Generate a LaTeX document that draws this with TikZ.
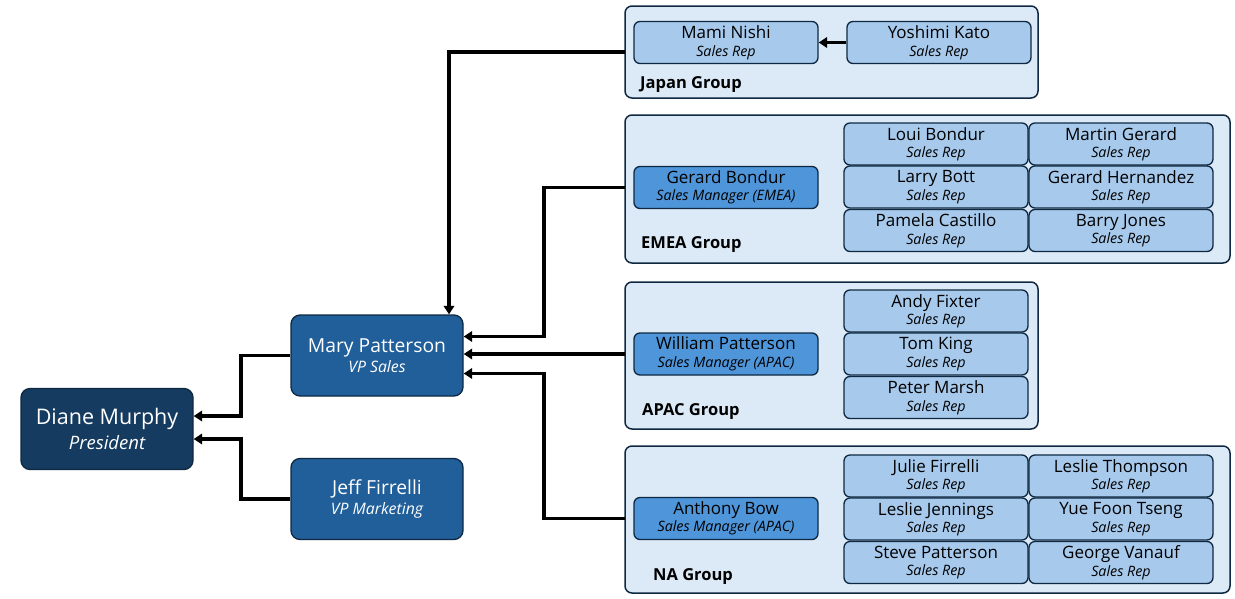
\documentclass[tikz,border=0pt]{standalone}
\usepackage{fontspec}
\setmainfont{Open Sans}
\usetikzlibrary{arrows.meta,calc}
\definecolor{bordc}{HTML}{0E2841}
\definecolor{grpc}{HTML}{DCE9F6}
\definecolor{repc}{HTML}{A6C9EC}
\definecolor{mgrc}{HTML}{4E95D9}
\definecolor{vpc}{HTML}{215F9A}
\definecolor{presc}{HTML}{163B60}
\newcommand{\nm}[2]{#1\\{\fontsize{14.3}{17}\selectfont\itshape #2}}
\begin{document}
\begin{tikzpicture}[x=1pt,y=-1pt,
  grp/.style={draw=bordc,line width=1.5pt,fill=grpc,rounded corners=7pt,inner sep=0pt},
  rep/.style={draw=bordc,line width=1.3pt,fill=repc,rounded corners=6pt,minimum width=184pt,minimum height=42pt,align=center,inner sep=0pt,text=black,font=\fontsize{17}{17.5}\selectfont},
  mgr/.style={rep,fill=mgrc},
  vp/.style={draw=bordc,line width=1.3pt,fill=vpc,rounded corners=9pt,minimum width=172pt,minimum height=81pt,align=center,inner sep=0pt,text=white,font=\fontsize{19.3}{19.5}\selectfont},
  pres/.style={vp,fill=presc,font=\fontsize{21.5}{24.5}\selectfont},
  glabel/.style={anchor=west,font=\fontsize{16.5}{18}\selectfont\bfseries,inner sep=0pt},
  arr/.style={line width=3.6pt,-{Triangle[length=8.5pt,width=10.5pt]}}
]
\useasboundingbox (0,0) rectangle (1235,598);

% groups
\draw[grp] (625,6) rectangle (1038,98);
\coordinate (japanW) at (625,52);
\draw[grp] (625,115) rectangle (1230,263);
\coordinate (emeaW) at (625,189);
\draw[grp] (625,282) rectangle (1038,429);
\coordinate (apacW) at (625,355);
\draw[grp] (625,446) rectangle (1230,593);
\coordinate (naW) at (625,520);

\node[glabel] (jl) at (640,85) {Japan Group};
\node[glabel] (el) at (641,245) {EMEA Group};
\node[glabel] (al) at (642,412) {APAC Group};
\node[glabel] (nl) at (653,576) {NA Group};

% Japan
\node[rep] (mn) at (726,42.5) {\nm{Mami Nishi}{Sales Rep}};
\node[rep] (yk) at (939,42.5) {\nm{Yoshimi Kato}{Sales Rep}};

% EMEA
\node[mgr] (gb) at (726,187.5) {\nm{Gerard Bondur}{Sales Manager (EMEA)}};
\node[rep] (e1) at (936,144) {\nm{Loui Bondur}{Sales Rep}};
\node[rep] (e2) at (1121,144) {\nm{Martin Gerard}{Sales Rep}};
\node[rep] (e3) at (936,187) {\nm{Larry Bott}{Sales Rep}};
\node[rep] (e4) at (1121,187) {\nm{Gerard Hernandez}{Sales Rep}};
\node[rep] (e5) at (936,230.5) {\nm{Pamela Castillo}{Sales Rep}};
\node[rep] (e6) at (1121,230.5) {\nm{Barry Jones}{Sales Rep}};

% APAC
\node[mgr] (wp) at (726,354) {\nm{William Patterson}{Sales Manager (APAC)}};
\node[rep] (a1) at (936,311) {\nm{Andy Fixter}{Sales Rep}};
\node[rep] (a2) at (936,354) {\nm{Tom King}{Sales Rep}};
\node[rep] (a3) at (936,397.5) {\nm{Peter Marsh}{Sales Rep}};

% NA
\node[mgr] (ab) at (726,518.5) {\nm{Anthony Bow}{Sales Manager (APAC)}};
\node[rep] (n1) at (936,476) {\nm{Julie Firrelli}{Sales Rep}};
\node[rep] (n2) at (1121,476) {\nm{Leslie Thompson}{Sales Rep}};
\node[rep] (n3) at (936,519) {\nm{Leslie Jennings}{Sales Rep}};
\node[rep] (n4) at (1121,519) {\nm{Yue Foon Tseng}{Sales Rep}};
\node[rep] (n5) at (936,562.5) {\nm{Steve Patterson}{Sales Rep}};
\node[rep] (n6) at (1121,562.5) {\nm{George Vanauf}{Sales Rep}};

% VPs and president
\node[vp] (mary) at (377,355.5) {Mary Patterson\\{\fontsize{15.8}{18}\selectfont\itshape VP Sales}};
\node[vp] (jeff) at (377,499) {Jeff Firrelli\\{\fontsize{15.8}{18}\selectfont\itshape VP Marketing}};
\node[pres] (diane) at (107,429) {Diane Murphy\\{\fontsize{18.5}{21}\selectfont\itshape President}};

% connectors
\coordinate (bx) at (544,0);
\coordinate (jx) at (449,0);
\coordinate (dx) at (241,0);
\draw[arr] (yk.west) -- (mn.east);
\draw[arr] (japanW) -- (japanW -| jx) -- (jx |- mary.north);
\draw[arr] (gb -| emeaW) -- (gb -| bx) |- ([yshift=19pt]mary.east);
\draw[arr] (wp -| apacW) -- (wp -| mary.east);
\draw[arr] (ab -| naW) -- (ab -| bx) |- ([yshift=-18pt]mary.east);
\draw[arr] (mary.west) -- (mary.west -| dx) |- ([yshift=13pt]diane.east);
\draw[arr] (jeff.west) -- (jeff.west -| dx) |- ([yshift=-10pt]diane.east);
\end{tikzpicture}
\end{document}
